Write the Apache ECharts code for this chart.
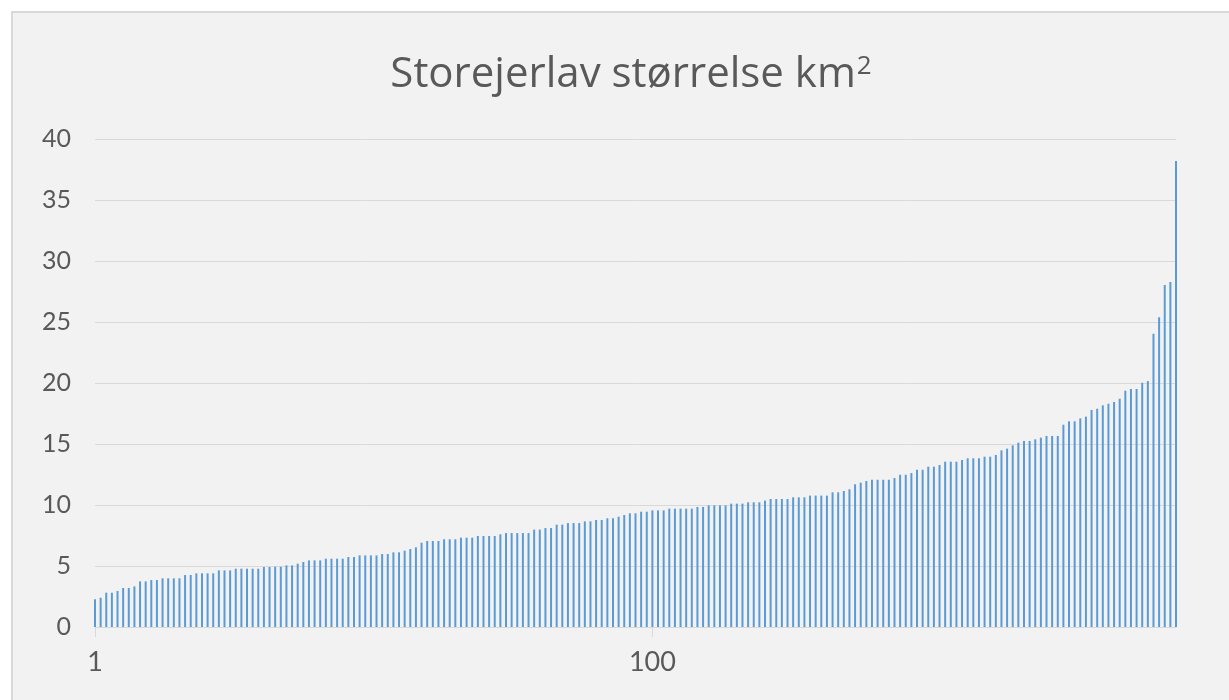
<!DOCTYPE html>
<html>
<head>
<meta charset="utf-8">
<script src="https://cdn.jsdelivr.net/npm/echarts@6/dist/echarts.min.js"></script>
<style>
  html, body { margin: 0; padding: 0; background: #ffffff; overflow: hidden; }
  #panel {
    position: absolute; left: 11px; top: 11px; width: 1240px; height: 720px;
    background: #f2f2f2; border: 2px solid #d9d9d9;
  }
  #box { position: absolute; left: 0; top: 0; width: 1229px; height: 700px; }
</style>
</head>
<body>
<div id="panel"></div>
<div id="box"></div>
<script>
// storejerlav sizes in km2, sorted ascending
var sizes1 = [2.27, 2.40, 2.81, 2.81, 2.95, 3.20, 3.20, 3.33, 3.74, 3.74,
  3.85, 3.85, 3.99, 3.99, 3.99, 3.99, 4.26, 4.26, 4.40, 4.40,
  4.40, 4.40, 4.64, 4.64, 4.64, 4.78, 4.78, 4.78, 4.78, 4.78,
  4.92, 4.92];
var sizes2 = [4.94, 4.94, 5.05, 5.05, 5.19, 5.33, 5.46, 5.46, 5.46, 5.60,
  5.60, 5.60, 5.60, 5.74, 5.74, 5.87, 5.87, 5.87, 5.87, 5.98,
  5.98, 6.12, 6.12, 6.26, 6.39, 6.53, 6.91, 7.05, 7.05, 7.05,
  7.19, 7.19, 7.19];
var sizes3 = [7.32, 7.32, 7.32, 7.46, 7.46, 7.46, 7.46, 7.60, 7.70, 7.70,
  7.70, 7.70, 7.70, 7.98, 7.98, 8.11, 8.11, 8.39, 8.39, 8.52,
  8.52, 8.52, 8.66, 8.66, 8.77, 8.77, 8.91, 8.91, 9.04, 9.18,
  9.32, 9.32];
var sizes4 = [9.45, 9.45, 9.56, 9.56, 9.56, 9.70, 9.70, 9.70, 9.70, 9.70,
  9.84, 9.84, 9.97, 9.97, 9.97, 9.97, 10.11, 10.11, 10.11, 10.22,
  10.22, 10.22, 10.36, 10.49, 10.49, 10.49, 10.49, 10.63, 10.63, 10.63,
  10.77, 10.77, 10.77, 10.77];
var sizes5 = [11.04, 11.04, 11.15, 11.29, 11.70, 11.83, 11.97, 12.07, 12.07, 12.07,
  12.07, 12.21, 12.48, 12.48, 12.62, 12.89, 12.89, 13.14, 13.14, 13.28,
  13.55, 13.55, 13.55, 13.69, 13.83, 13.83, 13.83, 13.96, 13.96, 14.10,
  14.48, 14.62, 14.89];
var sizes6 = [15.11, 15.25, 15.25, 15.38, 15.52, 15.66, 15.66, 15.66, 16.58, 16.86,
  16.86, 17.10, 17.24, 17.79, 17.89, 18.17, 18.30, 18.44, 18.71, 19.37,
  19.51, 19.51, 20.02, 20.16, 24.04, 25.39, 28.03, 28.28, 38.2];

var xTickLabels = ["1", "100"];
var yMin = 0, yMax = 40, yStep = 5;

var values = sizes1.concat(sizes2, sizes3, sizes4, sizes5, sizes6);
var categories = values.map(function (v, i) { return String(i + 1); });

var labelColor = "#595959";
var lineColor = "#d9d9d9";
var font = "Lato, 'Open Sans', sans-serif";

function showTick(i, name) {
  return xTickLabels.indexOf(name) >= 0;
}

var myChart = echarts.init(document.getElementById("box"));
var option = {
  animation: false,
  title: {
    text: "Storejerlav størrelse km{sup|2}",
    left: 626,
    top: 49,
    textAlign: "center",
    textStyle: {
      color: labelColor, fontSize: 42, fontWeight: "normal", fontFamily: "'Open Sans', sans-serif",
      rich: {
        sup: { color: labelColor, fontSize: 26, fontFamily: "'Open Sans', sans-serif", verticalAlign: "top", padding: [0, 0, 14, 1] }
      }
    }
  },
  grid: { left: 95, right: 53, top: 139, bottom: 73, containLabel: false },
  xAxis: {
    type: "category",
    boundaryGap: false,
    data: categories,
    axisLine: { lineStyle: { color: lineColor, width: 1 } },
    axisTick: { show: true, interval: showTick, length: 10, lineStyle: { color: lineColor } },
    axisLabel: { interval: showTick, color: labelColor, fontSize: 27, fontFamily: font, margin: 22 },
    splitLine: { show: false }
  },
  yAxis: {
    type: "value",
    min: yMin,
    max: yMax,
    interval: yStep,
    axisLine: { show: false },
    axisTick: { show: false },
    axisLabel: { color: labelColor, fontSize: 25, fontFamily: font, margin: 24 },
    splitLine: { lineStyle: { color: lineColor, width: 1 } }
  },
  series: [
    {
      name: "størrelse",
      type: "bar",
      data: values,
      barWidth: 2,
      itemStyle: { color: "#5b9bd5" }
    }
  ]
};
myChart.setOption(option);
</script>
</body>
</html>
